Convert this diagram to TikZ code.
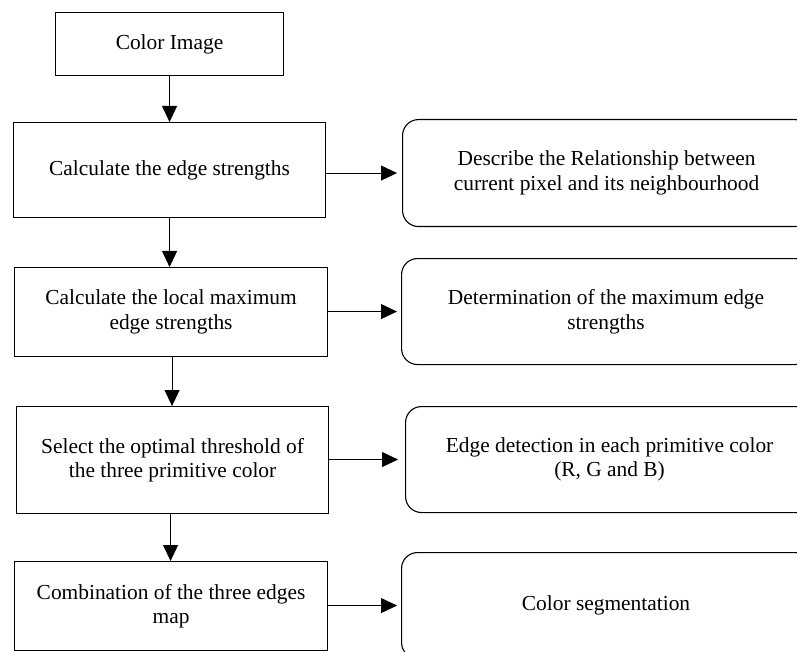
\documentclass[tikz,border=0pt]{standalone}
\usepackage{fontspec}
\setmainfont{Liberation Serif}
\usetikzlibrary{arrows.meta}
\begin{document}
\begin{tikzpicture}[x=1pt,y=-1pt,
  sqbox/.style={draw, line width=1.1pt, anchor=north west, inner sep=0pt, align=center,
    font=\fontsize{21.4}{24.5}\selectfont},
  rbox/.style={sqbox, rounded corners=16pt},
  arr/.style={-{Triangle[width=15pt,length=16pt]}, line width=0.9pt}]
\useasboundingbox (0,0) rectangle (797,652);
\clip (0,0) rectangle (797,652);
% left column
\node[sqbox, minimum width=228pt, minimum height=63pt] (b1) at (55,12) {Color Image};
\node[sqbox, minimum width=312pt, minimum height=95pt] (b2) at (13,122) {Calculate the edge strengths};
\node[sqbox, minimum width=313pt, minimum height=89pt] (b3) at (14,267) {Calculate the local maximum\\edge strengths};
\node[sqbox, minimum width=312pt, minimum height=107pt] (b4) at (16,406) {Select the optimal threshold of\\the three primitive color};
\node[sqbox, minimum width=313pt, minimum height=89pt] (b5) at (14,561) {Combination of the three edges\\map};
% right column
\node[rbox, minimum width=408pt, minimum height=107pt] (r1) at (402,119) {Describe the Relationship between\\current pixel and its neighbourhood};
\node[rbox, minimum width=409pt, minimum height=106pt] (r2) at (401,258) {Determination of the maximum edge\\strengths};
\node[rbox, minimum width=408pt, minimum height=106pt] (r3) at (405,406) {Edge detection in each primitive color\\(R, G and B)};
\node[rbox, minimum width=409pt, minimum height=106pt] (r4) at (401,552) {Color segmentation};
% vertical arrows
\draw[arr] (b1.south) -- (b1.south |- b2.north);
\draw[arr] (b2.south) -- (b2.south |- b3.north);
\draw[arr] ([xshift=1pt]b3.south) -- ([xshift=1pt]b3.south |- b4.north);
\draw[arr] ([xshift=-2pt]b4.south) -- ([xshift=-2pt]b4.south |- b5.north);
% horizontal arrows
\draw[arr, shorten >=5pt] (b2.east |- r1.west) -- (r1.west);
\draw[arr, shorten >=4pt] (b3.east |- r2.west) -- (r2.west);
\draw[arr, shorten >=7pt] (b4.east |- r3.west) -- (r3.west);
\draw[arr, shorten >=4pt] (b5.east |- r4.west) -- (r4.west);
\end{tikzpicture}
\end{document}
